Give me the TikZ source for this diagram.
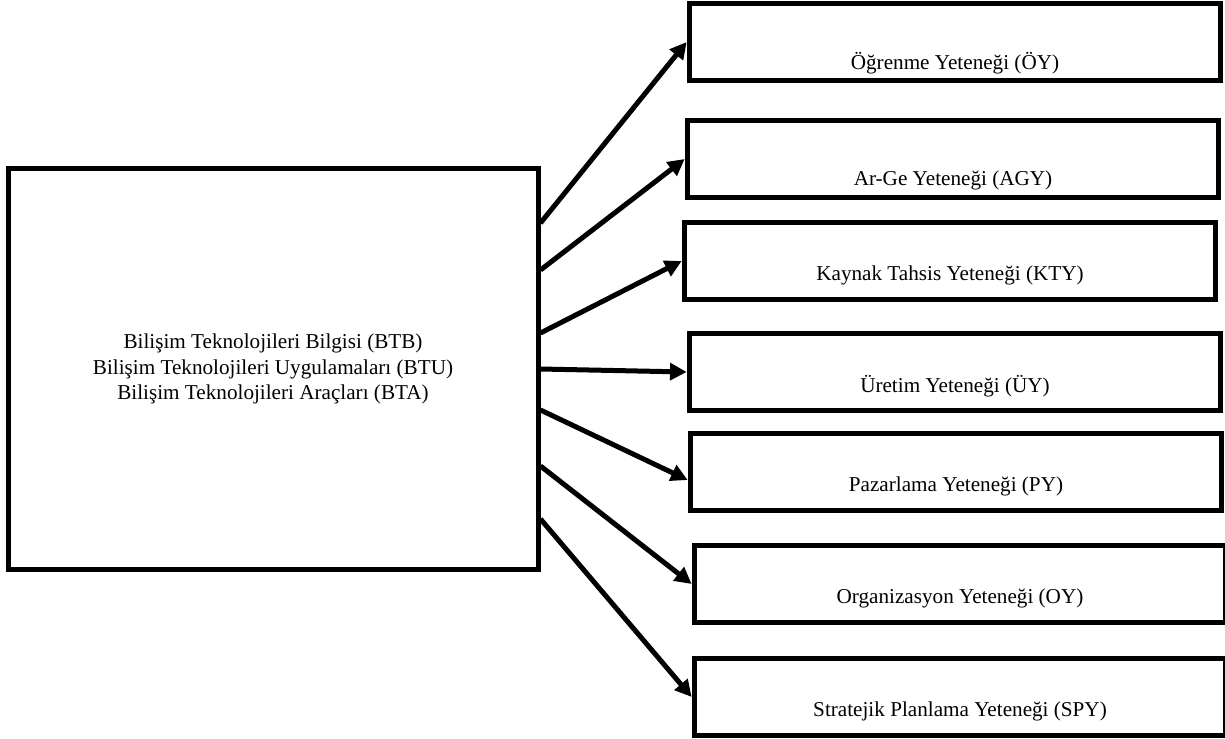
\documentclass[tikz,border=0pt]{standalone}
\usepackage{fontspec}
\setmainfont{Liberation Serif}
\usepackage{tikz}
\usetikzlibrary{arrows.meta}
\tikzset{source/.style={draw,line width=3pt,minimum width=318pt,minimum height=241pt,
        align=center,font=\fontsize{12.7pt}{15.4pt}\selectfont},
    skill/.style 2 args={draw,line width=3pt,minimum width=319pt,minimum height=46pt,
        inner sep=0pt,label={[font=\fontsize{12.7pt}{15pt}\selectfont,yshift=#2]center:#1}},
    link/.style={line width=3pt,-{Triangle[length=10pt,width=10pt]}}}

\begin{document}
\begin{tikzpicture}[x=0.6pt,y=-0.6pt]
            \useasboundingbox (0,0) rectangle (1225,738);
            \node[source] (bt) at (273,369)
            {Bilişim Teknolojileri Bilgisi (BTB)\\
            Bilişim Teknolojileri Uygulamaları (BTU)\\
            Bilişim Teknolojileri Araçları (BTA)};
            % yetenekler
            \node[skill={Öğrenme Yeteneği (ÖY)}{-13pt}] (oy) at (955,42) {};
            \node[skill={Ar-Ge Yeteneği (AGY)}{-13pt}] (agy) at (953,159) {};
            \node[skill={Kaynak Tahsis Yeteneği (KTY)}{-8.4pt}] (kty) at (950,261) {};
            \node[skill={Üretim Yeteneği (ÜY)}{-8.4pt}] (uy) at (955,372) {};
            \node[skill={Pazarlama Yeteneği (PY)}{-8.4pt}] (py) at (956,472) {};
            \node[skill={Organizasyon Yeteneği (OY)}{-8.4pt}] (ory) at (960,584) {};
            \node[skill={Stratejik Planlama Yeteneği (SPY)}{-8.4pt}] (spy) at (960,697) {};
            % oklar
            \draw[link] ([yshift=87.6pt]bt.east) -- (oy.west);
            \draw[link] ([yshift=59.4pt]bt.east) -- (agy.west);
            \draw[link] ([yshift=21.6pt]bt.east) -- (kty.west);
            \draw[link] (bt.east) -- (uy.west);
            \draw[link] ([yshift=-24.6pt]bt.east) -- ([yshift=-4.8pt]py.west);
            \draw[link] ([yshift=-58.2pt]bt.east) -- (ory.west);
            \draw[link] ([yshift=-90pt]bt.east) -- (spy.west);
        \end{tikzpicture}
\end{document}
